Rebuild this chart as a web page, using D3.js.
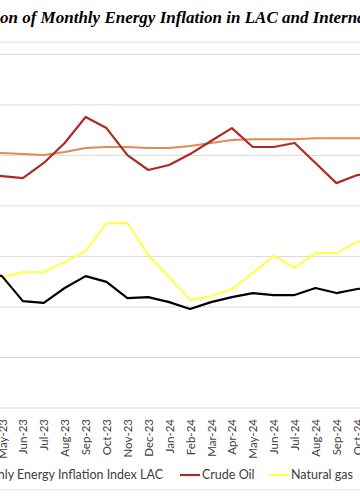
<!DOCTYPE html>
<html><head><meta charset="utf-8">
<script src="https://cdn.jsdelivr.net/npm/d3@7"></script>
<style>html,body{margin:0;padding:0;background:#fff;}svg{display:block;}</style>
</head><body>
<svg id="chart" width="360" height="504"></svg>
<script>
const months = ["Apr-23","May-23","Jun-23","Jul-23","Aug-23","Sep-23","Oct-23","Nov-23","Dec-23","Jan-24","Feb-24","Mar-24","Apr-24","May-24","Jun-24","Jul-24","Aug-24","Sep-24","Oct-24","Nov-24"];
const energyLAC = [54.6,52.2,42.3,41.6,47.5,52.2,49.9,43.5,43.9,41.9,39.2,41.9,43.9,45.5,44.7,44.7,47.5,45.5,47.1,48.3];
const crudeOil  = [92.6,91.8,91.0,97.0,104.9,115.2,110.8,100.1,94.2,96.2,100.5,105.7,110.8,103.3,103.3,104.9,97.0,89.0,92.2,93.4];
const naturalGas= [57.8,51.8,53.8,53.8,57.8,62.1,73.2,73.3,60.5,51.8,42.7,44.3,47.1,53.4,60.2,55.4,61.3,61.3,65.7,67.3];
const other     = [101.3,100.9,100.5,100.1,101.3,102.9,103.3,103.3,102.9,102.9,103.7,104.9,106.1,106.4,106.4,106.4,106.8,106.8,106.8,106.8];
const yTicks = [0,20,40,60,80,100,120,140];
const title = "Evolution of Monthly Energy Inflation in LAC and International Prices";
const seriesNames = ["Monthly Energy Inflation Index LAC","Crude Oil","Natural gas","Electricity"];

const svg = d3.select("#chart");
const W = 360, H = 504;
const x = d3.scalePoint().domain(months).range([-18.9, 2 + 18*20.9]);
const y = d3.scaleLinear().domain([0,140]).range([408, 54.3]);

// frame lines
svg.append("line").attr("x1",0).attr("x2",W).attr("y1",42.3).attr("y2",42.3).attr("stroke","#e3e3e3").attr("stroke-width",1);
svg.append("line").attr("x1",0).attr("x2",W).attr("y1",490).attr("y2",490).attr("stroke","#e3e3e3").attr("stroke-width",1);

// gridlines
svg.append("g").selectAll("line").data(yTicks).join("line")
  .attr("x1",0).attr("x2",W).attr("y1",d=>y(d)).attr("y2",d=>y(d))
  .attr("stroke","#d9d9d9").attr("stroke-width",1);

// title
const t = svg.append("text").attr("y",23).attr("font-family","'Liberation Serif',serif")
  .attr("font-weight","bold").attr("font-style","italic").attr("font-size","17px").attr("fill","#000");
const probe = svg.append("text").attr("font-family","'Liberation Serif',serif")
  .attr("font-weight","bold").attr("font-style","italic").attr("font-size","17px").text("Evoluti");
const pre = probe.node().getComputedTextLength(); probe.remove();
t.attr("x", 0 - pre).text(title);

// x axis labels
const xAxis = d3.axisBottom(x).tickSize(0).tickPadding(0);
const gx = svg.append("g").attr("transform","translate(0,408)").call(xAxis);
gx.select(".domain").remove();
gx.selectAll("text")
  .attr("font-family","Lato, 'Open Sans', sans-serif").attr("font-size","11.5px").attr("fill","#404040")
  .attr("text-anchor","end").attr("transform","translate(0,11) rotate(-90)")
  .attr("x",0).attr("y",0).attr("dy","0.35em");

// lines
const colors = ["#000000","#ad2b23","#ffff4d","#e08c54"];
const data = [energyLAC, crudeOil, naturalGas, other];
const widths = [2.2,2.2,2.2,2];
const line = d3.line().x((d,i)=>x(months[i])).y(d=>y(d));
const drawOrder = [3,2,0,1];
drawOrder.forEach(k=>{
  svg.append("path").datum(data[k]).attr("d",line).attr("fill","none")
    .attr("stroke",colors[k]).attr("stroke-width",widths[k]).attr("stroke-linejoin","round");
});

// legend
const legY = 475;
const legend = [
  {name:seriesNames[0], color:colors[0], x1:-32, textX:-11},
  {name:seriesNames[1], color:colors[1], x1:180, textX:202},
  {name:seriesNames[2], color:colors[2], x1:269, textX:291},
  {name:seriesNames[3], color:colors[3], x1:372, textX:394}
];
legend.forEach((l,i)=>{
  svg.append("line").attr("x1",l.x1).attr("x2",l.x1+20).attr("y1",legY).attr("y2",legY)
    .attr("stroke",l.color).attr("stroke-width",2.2);
  const tx = svg.append("text").attr("y",legY).attr("dy","0.35em")
    .attr("font-family","Lato, 'Open Sans', sans-serif").attr("font-size","12.5px").attr("fill","#404040")
    .text(l.name);
  if (i===0) { tx.attr("text-anchor","end").attr("x",163); }
  else tx.attr("x",l.textX);
});
</script>
</body></html>
